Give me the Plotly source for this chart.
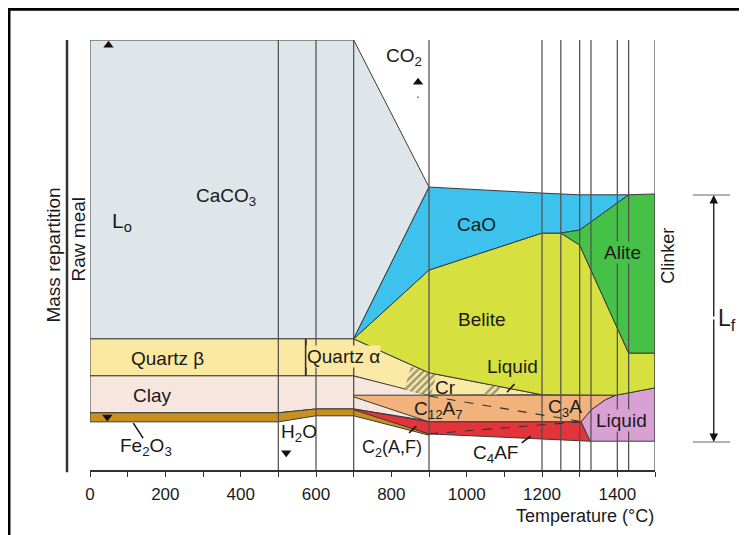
import plotly.graph_objects as go

# ---------------- data: temperature (°C) and relative mass (top of raw meal = 100) ----------------
caco3_T = [0, 700, 900, 700, 0]
caco3_m = [100, 100, 65.8, 30.5, 30.5]

quartz_T = [0, 700, 700, 0]
quartz_m = [30.5, 30.5, 21.9, 21.9]
quartz_transition_T = [573, 573]
quartz_transition_m = [30.5, 21.9]

clay_T = [0, 700, 900, 900, 700, 600, 500, 0]
clay_m = [21.9, 21.9, 17.7, 11.4, 14.2, 14.2, 13.3, 13.3]

fe2o3_T = [0, 500, 600, 700, 900, 900, 700, 600, 500, 0]
fe2o3_m = [13.3, 13.3, 14.2, 14.2, 8.4, 8.1, 12.6, 12.6, 11.2, 11.2]

cr_T = [700, 900, 1200, 900, 700]
cr_m = [30.5, 22.6, 17.5, 17.4, 21.9]

hatch1_T = [852, 920, 905, 834]
hatch1_m = [24.0, 22.2, 17.4, 18.6]
hatch2_T = [1062, 1090, 1080, 1045]
hatch2_m = [20.1, 19.5, 17.4, 17.4]

c3a_T = [700, 1397, 1368, 1331, 1304, 900, 700]
c3a_m = [17.4, 17.4, 16.3, 14.0, 11.2, 11.2, 17.0]

c4af_T = [700, 900, 1304, 1328, 900, 700]
c4af_m = [14.2, 11.2, 11.2, 6.7, 8.4, 14.0]

liquid_T = [1304, 1331, 1368, 1397, 1500, 1500, 1328]
liquid_m = [11.2, 14.0, 16.3, 17.4, 19.1, 6.7, 6.7]

belite_T = [700, 900, 1200, 1250, 1300, 1430, 1500, 1500, 1397, 1200, 900, 700]
belite_m = [30.5, 46.5, 55.1, 55.1, 52.3, 27.2, 27.2, 19.1, 17.4, 17.5, 22.6, 30.5]

cao_T = [700, 900, 1200, 1300, 1430, 1300, 1250, 1200, 900]
cao_m = [30.5, 65.8, 64.4, 64.0, 64.0, 55.8, 55.1, 55.1, 46.5]

alite_T = [1250, 1300, 1430, 1500, 1500, 1430, 1300]
alite_m = [55.1, 55.8, 64.0, 64.2, 27.2, 27.2, 52.3]

dash1_T = [900, 1296]
dash1_m = [17.2, 11.4]
dash2_T = [900, 1300]
dash2_m = [8.4, 11.2]

vlines_T = [500, 600, 700, 900, 1200, 1250, 1300, 1330, 1400, 1430, 1500]
vline_m = [0, 100]

marker_up_T = [49, 871]
marker_up_m = [98.8, 90.2]
marker_down_T = [46, 521]
marker_down_m = [12.3, 4.0]
dot_T = [871]
dot_m = [86.7]

leader_T = [115, 141, None, 847, 866, None, 1146, 1170, None, 1107, 1127]
leader_m = [10.9, 7.4, None, 8.6, 10.2, None, 6.3, 7.9, None, 18.1, 20.0]

tick_vals = list(range(0, 1501, 100))
tick_text = [str(v) if (v % 200 == 0 and v < 1500) else "" for v in tick_vals]

# ---------------- figure ----------------
FONT = "Liberation Sans, Arial, sans-serif"
OUT = "#3a3a3a"
fig = go.Figure()


def region(T, m, color, width=1.0):
    fig.add_trace(go.Scatter(x=T + [T[0]], y=m + [m[0]], mode="lines", fill="toself",
                             fillcolor=color, line=dict(color=OUT, width=width),
                             hoverinfo="skip", showlegend=False))


def hatch(T, m):
    fig.add_trace(go.Scatter(x=T + [T[0]], y=m + [m[0]], mode="lines", fill="toself",
                             fillcolor="rgba(0,0,0,0)",
                             fillpattern=dict(shape="/", fgcolor="#444444", bgcolor="#fbeaa6",
                                              size=5, solidity=0.5),
                             line=dict(width=0), hoverinfo="skip", showlegend=False))


region(caco3_T, caco3_m, "#dfe6ea")
region(quartz_T, quartz_m, "#fbe9a2")
region(clay_T, clay_m, "#f6e6de")
region(fe2o3_T, fe2o3_m, "#c8911f")
region(cr_T, cr_m, "#fbeaa6")
hatch(hatch1_T, hatch1_m)
hatch(hatch2_T, hatch2_m)
region(c3a_T, c3a_m, "#f2b27c")
region(c4af_T, c4af_m, "#e3343b")
region(liquid_T, liquid_m, "#d9a0d3")
region(belite_T, belite_m, "#d6e13f")
region(cao_T, cao_m, "#3dc2ee")
region(alite_T, alite_m, "#46c147")

# vertical temperature lines
vx, vy = [], []
for t in vlines_T:
    vx += [t, t, None]
    vy += vline_m + [None]
fig.add_trace(go.Scatter(x=vx, y=vy, mode="lines", line=dict(color="#505050", width=1.25),
                         hoverinfo="skip", showlegend=False))
fig.add_trace(go.Scatter(x=quartz_transition_T, y=quartz_transition_m, mode="lines",
                         line=dict(color="#333333", width=2), hoverinfo="skip", showlegend=False))

# dashed lines
for T, m in [(dash1_T, dash1_m), (dash2_T, dash2_m)]:
    fig.add_trace(go.Scatter(x=T, y=m, mode="lines", line=dict(color="#333333", width=1.1, dash="dash"),
                             hoverinfo="skip", showlegend=False))

# leader lines
fig.add_trace(go.Scatter(x=leader_T, y=leader_m, mode="lines", line=dict(color="#111111", width=1.5),
                         hoverinfo="skip", showlegend=False))

# triangle markers
fig.add_trace(go.Scatter(x=marker_up_T, y=marker_up_m, mode="markers",
                         marker=dict(symbol="triangle-up", size=9, color="#111111"),
                         hoverinfo="skip", showlegend=False))
fig.add_trace(go.Scatter(x=marker_down_T, y=marker_down_m, mode="markers",
                         marker=dict(symbol="triangle-down", size=9, color="#111111"),
                         hoverinfo="skip", showlegend=False))
fig.add_trace(go.Scatter(x=dot_T, y=dot_m, mode="markers",
                         marker=dict(symbol="circle", size=2, color="#888888"),
                         hoverinfo="skip", showlegend=False))

# ---------------- text labels ----------------
labels = [
    ("CaCO<sub>3</sub>", 361, 63.5, None, 19),
    ("L<sub>o</sub>", 86, 57.7, None, 21),
    ("CO<sub>2</sub>", 834, 96.0, None, 19),
    ("CaO", 1025, 57.0, None, 19),
    ("Alite", 1415, 50.5, "#46c147", 19),
    ("Belite", 1040, 34.9, None, 19),
    ("Quartz β", 205, 26.0, None, 19),
    ("Quartz α", 673, 26.3, "#fbe9a2", 19),
    ("Clay", 165, 17.4, None, 19),
    ("Cr", 945, 19.3, None, 19),
    ("Liquid", 1122, 24.0, None, 19),
    ("C<sub>12</sub>A<sub>7</sub>", 924, 14.0, None, 19),
    ("C<sub>3</sub>A", 1260, 14.4, None, 19),
    ("Liquid", 1410, 11.6, "#d9a0d3", 19),
    ("C<sub>4</sub>AF", 1077, 3.7, None, 19),
    ("C<sub>2</sub>(A,F)", 802, 4.9, None, 18),
    ("Fe<sub>2</sub>O<sub>3</sub>", 149, 5.3, None, 19),
    ("H<sub>2</sub>O", 554, 8.6, None, 19),
]
for txt, x, y, bg, sz in labels:
    fig.add_annotation(x=x, y=y, xref="x", yref="y", text=txt, showarrow=False,
                       xanchor="center", yanchor="middle",
                       font=dict(family=FONT, size=sz, color="#1a1a1a"),
                       bgcolor=bg if bg else "rgba(0,0,0,0)", borderpad=0)

paper_labels = [
    ("Mass repartition", -0.0663, 0.50, -90, 19),
    ("Raw meal", -0.0203, 0.535, -90, 19),
    ("Clinker", 1.0228, 0.498, -90, 18),
    ("L<sub>f</sub>", 1.127, 0.349, 0, 23),
    ("Temperature (°C)", 0.876, -0.107, 0, 18),
]
for txt, x, y, ang, sz in paper_labels:
    fig.add_annotation(x=x, y=y, xref="paper", yref="paper", text=txt, showarrow=False,
                       xanchor="center", yanchor="middle",
                       textangle=ang, font=dict(family=FONT, size=sz, color="#1a1a1a"))

# Lf double arrow
fig.add_annotation(x=1.104, y=0.6395, xref="paper", yref="paper", ax=0, ay=123, text="",
                   showarrow=True, arrowhead=2, arrowsize=1.3, arrowwidth=1.3, arrowcolor="#111111")
fig.add_annotation(x=1.104, y=0.0651, xref="paper", yref="paper", ax=0, ay=-124, text="",
                   showarrow=True, arrowhead=2, arrowsize=1.3, arrowwidth=1.3, arrowcolor="#111111")

shapes = [
    dict(type="line", xref="paper", yref="paper", x0=1.067, x1=1.133, y0=0.6395, y1=0.6395,
         line=dict(color="#666666", width=1.2)),
    dict(type="line", xref="paper", yref="paper", x0=1.067, x1=1.133, y0=0.0651, y1=0.0651,
         line=dict(color="#666666", width=1.2)),
    dict(type="line", xref="paper", yref="paper", x0=-0.0407, x1=-0.0407, y0=1.0, y1=-0.005,
         line=dict(color="#333333", width=2.5)),
    dict(type="line", xref="paper", yref="paper", x0=-0.1434, x1=-0.1434, y0=1.08, y1=-0.2,
         line=dict(color="#000000", width=3)),
    dict(type="line", xref="paper", yref="paper", x0=-0.1434, x1=1.2, y0=1.0715, y1=1.0715,
         line=dict(color="#000000", width=3)),
]

fig.update_layout(
    width=739, height=527,
    margin=dict(l=82, r=92, t=32, b=65),
    paper_bgcolor="white", plot_bgcolor="white",
    shapes=shapes,
    xaxis=dict(range=[0, 1500], showgrid=False, zeroline=False, showline=True,
               linecolor="#333333", linewidth=2, ticks="outside", ticklen=5, tickwidth=1.2,
               tickcolor="#333333", tickvals=tick_vals, ticktext=tick_text,
               ticklabelstandoff=3,
               tickfont=dict(family=FONT, size=17, color="#1a1a1a")),
    yaxis=dict(range=[0, 100], visible=False),
)

fig.write_html("out.html")
